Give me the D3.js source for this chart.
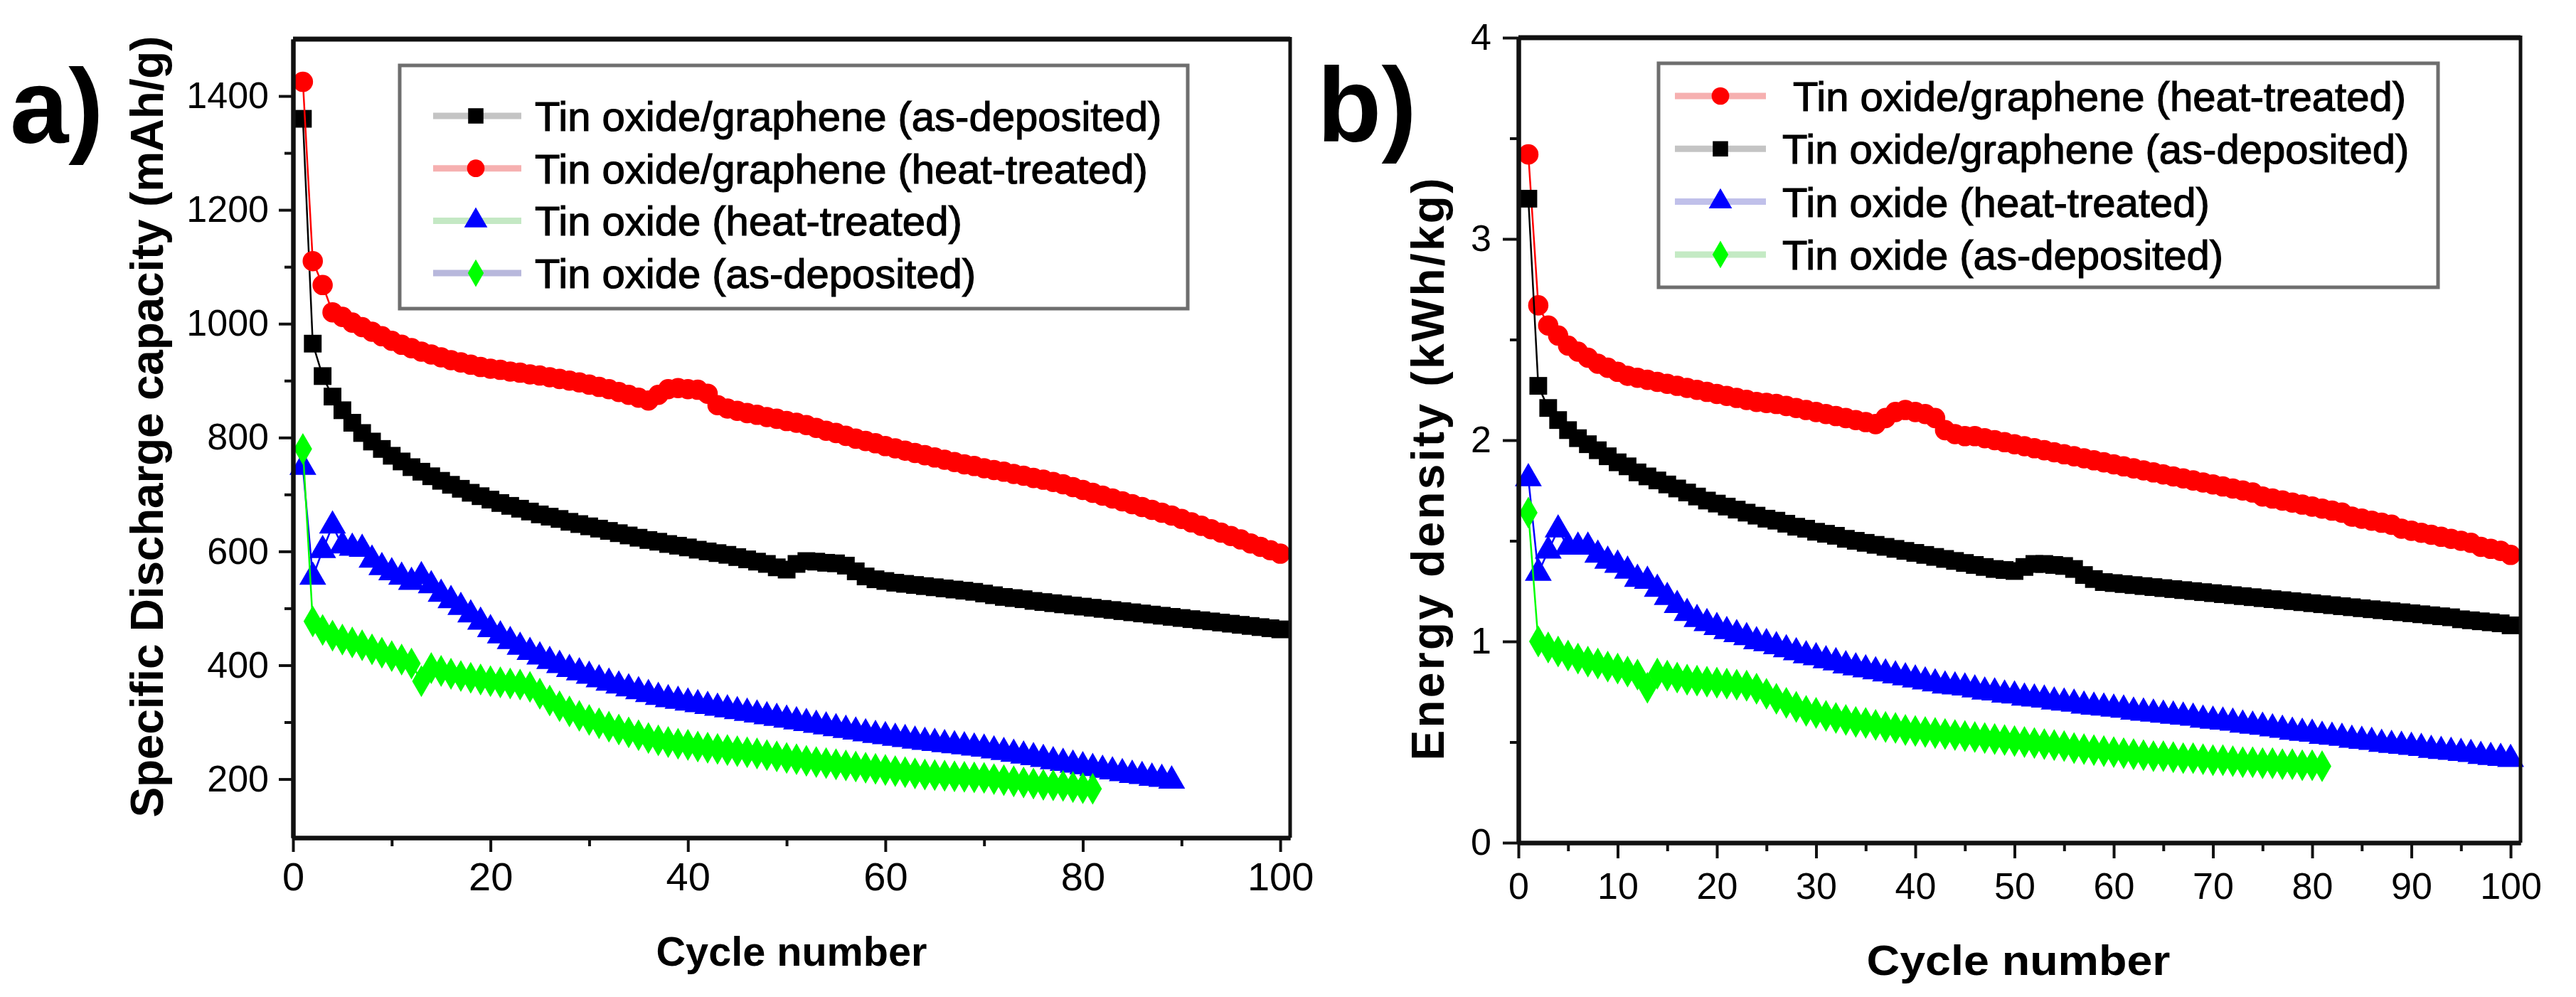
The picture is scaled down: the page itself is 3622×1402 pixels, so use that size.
<!DOCTYPE html>
<html><head><meta charset="utf-8">
<script src="https://cdn.jsdelivr.net/npm/d3@7"></script>
<style>
body{margin:0;background:#fff}
svg{display:block}
text{font-family:"Liberation Sans",Arial,Helvetica,sans-serif}
</style>
</head><body>
<svg id="chart" width="3622" height="1402"></svg>
<script>
// ---------------- DATA ----------------
// Panel a: specific discharge capacity (mAh/g) vs cycle number
const capGrapheneAsDep = [1360,965,908,872,848,826,808,793,780,768,
 758,748,740,732,724,717,710,703,697,691,
 685,680,675,670,665,661,657,652,648,644,
 640,636,632,628,624,620,617,613,610,607,
 603,600,597,594,590,586,582,578,572,568,
 578,583,582,580,579,575,565,556,551,548,
 545,543,541,539,537,535,533,531,529,526,
 523,520,518,516,513,511,509,507,505,503,
 501,499,497,495,493,491,489,487,485,483,
 481,479,477,475,473,471,469,467,465,463];
const capGrapheneHeat = [1425,1110,1068,1020,1012,1002,994,986,978,970,
 963,957,951,946,941,936,932,928,924,921,
 919,916,914,911,909,906,903,900,897,893,
 889,885,880,875,870,865,875,885,887,885,
 884,877,857,851,847,843,840,836,833,829,
 826,822,817,812,808,803,798,794,790,785,
 781,777,773,769,765,761,757,753,750,746,
 743,740,736,733,729,726,722,718,713,708,
 703,698,693,688,683,678,673,668,663,657,
 651,645,639,633,627,621,614,608,602,596];
const capOxideHeat = [748,555,602,645,610,606,604,585,572,563,
 555,546,556,540,525,514,502,489,476,463,
 452,442,432,423,415,407,400,393,387,381,
 375,369,364,359,354,349,344,340,337,334,
 331,328,325,322,319,316,313,310,307,304,
 301,298,295,292,289,286,283,280,277,275,
 272,270,267,265,263,261,259,257,255,253,
 250,247,244,241,238,235,231,228,225,222,
 219,216,213,210,207,205,202,200,197];
const capOxideAsDep = [780,477,462,452,445,440,435,428,422,416,
 410,403,372,395,390,385,381,378,375,372,
 370,368,366,362,350,338,328,319,311,304,
 298,292,287,282,277,272,268,265,262,260,
 257,255,253,251,249,247,245,242,240,237,
 235,232,230,228,226,224,222,220,218,216,
 214,212,210,208,207,206,205,204,203,202,
 200,198,196,194,192,190,189,188,186,184,
 183];

// Panel b: energy density (kWh/kg) vs cycle number
const enGrapheneHeat = [3.42,2.67,2.57,2.52,2.47,2.44,2.41,2.38,2.36,2.34,
 2.32,2.31,2.30,2.29,2.28,2.27,2.26,2.25,2.24,2.23,
 2.22,2.21,2.20,2.19,2.185,2.18,2.17,2.16,2.15,2.14,
 2.13,2.12,2.11,2.10,2.09,2.08,2.11,2.14,2.15,2.14,
 2.13,2.11,2.05,2.03,2.02,2.02,2.01,2.00,1.99,1.98,
 1.97,1.96,1.95,1.94,1.93,1.92,1.91,1.90,1.89,1.88,
 1.87,1.86,1.85,1.84,1.83,1.82,1.81,1.80,1.79,1.78,
 1.77,1.76,1.75,1.74,1.72,1.71,1.70,1.69,1.68,1.67,
 1.66,1.65,1.64,1.62,1.61,1.60,1.59,1.58,1.56,1.55,
 1.54,1.53,1.52,1.51,1.50,1.49,1.47,1.46,1.45,1.43];
const enGrapheneAsDep = [3.20,2.27,2.16,2.10,2.05,2.01,1.98,1.95,1.92,1.89,
 1.87,1.84,1.82,1.80,1.78,1.76,1.74,1.72,1.70,1.685,
 1.67,1.655,1.64,1.625,1.61,1.60,1.585,1.57,1.56,1.545,
 1.535,1.525,1.51,1.50,1.49,1.48,1.47,1.46,1.45,1.44,
 1.43,1.42,1.41,1.40,1.39,1.38,1.37,1.36,1.355,1.35,
 1.37,1.385,1.385,1.38,1.375,1.36,1.33,1.31,1.295,1.29,
 1.285,1.28,1.275,1.27,1.265,1.26,1.255,1.25,1.245,1.24,
 1.235,1.23,1.225,1.22,1.215,1.21,1.205,1.20,1.195,1.19,
 1.185,1.18,1.175,1.17,1.165,1.16,1.155,1.15,1.145,1.14,
 1.135,1.13,1.125,1.12,1.11,1.105,1.10,1.095,1.09,1.08];
const enOxideHeat = [1.81,1.34,1.45,1.555,1.47,1.47,1.47,1.43,1.40,1.38,
 1.35,1.31,1.30,1.26,1.22,1.18,1.14,1.11,1.09,1.07,
 1.05,1.035,1.02,1.00,0.99,0.975,0.96,0.945,0.93,0.92,
 0.905,0.895,0.88,0.87,0.86,0.85,0.84,0.83,0.82,0.81,
 0.80,0.79,0.78,0.775,0.77,0.76,0.75,0.745,0.735,0.73,
 0.72,0.715,0.71,0.70,0.695,0.69,0.68,0.675,0.67,0.665,
 0.66,0.65,0.645,0.64,0.635,0.63,0.625,0.62,0.61,0.605,
 0.60,0.595,0.585,0.58,0.575,0.567,0.56,0.55,0.545,0.54,
 0.53,0.525,0.52,0.51,0.505,0.50,0.49,0.485,0.48,0.475,
 0.47,0.46,0.455,0.45,0.445,0.44,0.43,0.425,0.42,0.415];
const enOxideAsDep = [1.64,1.00,0.97,0.95,0.93,0.915,0.90,0.89,0.875,0.865,
 0.85,0.835,0.77,0.84,0.83,0.82,0.81,0.805,0.80,0.795,
 0.79,0.785,0.78,0.765,0.74,0.715,0.695,0.675,0.655,0.645,
 0.63,0.62,0.61,0.60,0.595,0.585,0.575,0.57,0.56,0.555,
 0.55,0.545,0.54,0.535,0.53,0.525,0.52,0.515,0.51,0.505,
 0.50,0.495,0.49,0.485,0.48,0.47,0.465,0.46,0.455,0.45,
 0.445,0.44,0.435,0.43,0.43,0.425,0.42,0.42,0.415,0.41,
 0.41,0.405,0.40,0.40,0.395,0.395,0.39,0.39,0.385,0.385,0.38];

// Tick values
const xTicksA = [0,20,40,60,80,100];
const xMinorA = [10,30,50,70,90];
const yTicksA = [200,400,600,800,1000,1200,1400];
const yMinorA = [300,500,700,900,1100,1300];
const xTicksB = [0,10,20,30,40,50,60,70,80,90,100];
const xMinorB = [5,15,25,35,45,55,65,75,85,95];
const yTicksB = [0,1,2,3,4];
const yMinorB = [0.5,1.5,2.5,3.5];

// Legend labels (in drawing order)
const labelsA = ["Tin oxide/graphene (as-deposited)","Tin oxide/graphene (heat-treated)","Tin oxide (heat-treated)","Tin oxide (as-deposited)"];
const labelsB = [" Tin oxide/graphene (heat-treated)","Tin oxide/graphene (as-deposited)","Tin oxide (heat-treated)","Tin oxide (as-deposited)"];

// ---------------- DRAW ----------------
const svg = d3.select("#chart");
svg.append("rect").attr("width",3622).attr("height",1402).attr("fill","#fff");

const SYM = {square:d3.symbolSquare, circle:d3.symbolCircle, triangle:d3.symbolTriangle, diamond:d3.symbolDiamond};
const SYMSIZE = {square:620, circle:640, triangle:620, diamond:580};

function panel(cfg){
  const g = svg.append("g");
  const x = d3.scaleLinear().domain(cfg.xDomain).range(cfg.xRange);
  const y = d3.scaleLinear().domain(cfg.yDomain).range(cfg.yRange);
  const [L,R] = cfg.xRange, [B,T] = cfg.yRange;

  // series
  cfg.series.forEach(s=>{
    const pts = s.values.map((v,i)=>[i+1,v]);
    g.append("path").datum(pts)
      .attr("fill","none").attr("stroke",s.color).attr("stroke-width",2.5)
      .attr("d", d3.line().x(d=>x(d[0])).y(d=>y(d[1])));
    g.append("g").selectAll("path").data(pts).join("path")
      .attr("transform",d=>`translate(${x(d[0])},${y(d[1])})`)
      .attr("d", d3.symbol().type(SYM[s.shape]).size(SYMSIZE[s.shape]))
      .attr("fill",s.color);
  });

  // frame
  g.append("line").attr("x1",L).attr("x2",R).attr("y1",T).attr("y2",T).attr("stroke","#111").attr("stroke-width",7);
  g.append("line").attr("x1",R).attr("x2",R).attr("y1",T-3).attr("y2",B).attr("stroke","#111").attr("stroke-width",5);

  // axes
  const styleAxis = (sel, fs)=>{
    sel.select(".domain").attr("stroke","#111").attr("stroke-width",6);
    sel.selectAll(".tick line").attr("stroke","#111").attr("stroke-width",4);
    sel.selectAll(".tick text").attr("fill","#000").attr("font-size",fs)
      .attr("font-family","'Liberation Sans',Arial,sans-serif");
  };
  g.append("g").attr("transform",`translate(0,${B})`)
    .call(d3.axisBottom(x).tickValues(cfg.xMinor).tickSize(12).tickSizeOuter(0).tickFormat(""))
    .call(s=>styleAxis(s,cfg.fs));
  g.append("g").attr("transform",`translate(0,${B})`)
    .call(d3.axisBottom(x).tickValues(cfg.xTicks).tickSize(cfg.tick).tickSizeOuter(0).tickPadding(cfg.xPad).tickFormat(d3.format("d")))
    .call(s=>styleAxis(s,cfg.fsX));
  g.append("g").attr("transform",`translate(${L},0)`)
    .call(d3.axisLeft(y).tickValues(cfg.yMinor).tickSize(12).tickSizeOuter(0).tickFormat(""))
    .call(s=>styleAxis(s,cfg.fs));
  g.append("g").attr("transform",`translate(${L},0)`)
    .call(d3.axisLeft(y).tickValues(cfg.yTicks).tickSize(cfg.tick).tickSizeOuter(0).tickPadding(cfg.yPad).tickFormat(d3.format("d")))
    .call(s=>styleAxis(s,cfg.fs));

  // axis titles
  g.append("text").attr("x",cfg.xTitle[0]).attr("y",cfg.xTitle[1]).attr("text-anchor","middle")
    .attr("font-size",cfg.xTitle[2]).attr("font-weight","bold").attr("textLength",cfg.xTitle[3]).attr("lengthAdjust","spacingAndGlyphs")
    .text("Cycle number");
  g.append("text").attr("transform",`translate(${cfg.yTitle[0]},${cfg.yTitle[1]}) rotate(-90)`).attr("text-anchor","middle")
    .attr("font-size",cfg.yTitle[2]).attr("font-weight","bold").attr("textLength",cfg.yTitle[3]).attr("lengthAdjust","spacing")
    .text(cfg.yLabel);

  // panel letter
  g.append("text").attr("x",cfg.letter[0]).attr("y",cfg.letter[1]).attr("font-size",148).attr("font-weight","bold").text(cfg.letter[2]);

  // legend
  const lg = cfg.legend;
  g.append("rect").attr("x",lg.box[0]).attr("y",lg.box[1]).attr("width",lg.box[2]-lg.box[0]).attr("height",lg.box[3]-lg.box[1])
    .attr("fill","#fff").attr("stroke","#6e6e6e").attr("stroke-width",5);
  lg.items.forEach((it,i)=>{
    const by = lg.base + i*lg.step, cy = by - 21;
    g.append("line").attr("x1",lg.line[0]).attr("x2",lg.line[1]).attr("y1",cy).attr("y2",cy)
      .attr("stroke",it.lineColor).attr("stroke-width",9);
    g.append("path").attr("transform",`translate(${lg.mark},${cy})`)
      .attr("d", d3.symbol().type(SYM[it.shape]).size(SYMSIZE[it.shape]*0.75)).attr("fill",it.color);
    g.append("text").attr("x",lg.text).attr("y",by).attr("font-size",58).attr("fill","#000")
      .attr("stroke","#000").attr("stroke-width",1.2)
      .style("white-space","pre").text(it.label);
  });
}

const C = {black:"#000000", red:"#ff0000", blue:"#0000ff", green:"#00ff00"};

panel({
  xDomain:[0,101], xRange:[412,1814], yDomain:[97,1500], yRange:[1178,55],
  xTicks:xTicksA, xMinor:xMinorA, yTicks:yTicksA, yMinor:yMinorA,
  tick:20, xPad:14, yPad:14, fs:52, fsX:56,
  xTitle:[1113,1358,58,381], yTitle:[229,600,64,1099],
  yLabel:"Specific Discharge capacity (mAh/g)",
  letter:[14,201,"a)"],
  series:[
    {values:capGrapheneAsDep, color:C.black, shape:"square"},
    {values:capGrapheneHeat, color:C.red, shape:"circle"},
    {values:capOxideHeat, color:C.blue, shape:"triangle"},
    {values:capOxideAsDep, color:C.green, shape:"diamond"}
  ],
  legend:{box:[562,92,1670,434], base:184, step:73.7, line:[609,733], mark:669, text:752,
    items:[
      {label:labelsA[0], color:C.black, shape:"square", lineColor:"#c4c4c4"},
      {label:labelsA[1], color:C.red, shape:"circle", lineColor:"#f6b0b0"},
      {label:labelsA[2], color:C.blue, shape:"triangle", lineColor:"#c4e8c4"},
      {label:labelsA[3], color:C.green, shape:"diamond", lineColor:"#b8b8dc"}
    ]}
});

panel({
  xDomain:[0,101], xRange:[2135,3544], yDomain:[0,4], yRange:[1185,53],
  xTicks:xTicksB, xMinor:xMinorB, yTicks:yTicksB, yMinor:yMinorB,
  tick:22, xPad:20, yPad:16, fs:52, fsX:52,
  xTitle:[2838,1371,60,427], yTitle:[2030,660,64,819],
  yLabel:"Energy density (kWh/kg)",
  letter:[1852,199,"b)"],
  series:[
    {values:enGrapheneHeat, color:C.red, shape:"circle"},
    {values:enGrapheneAsDep, color:C.black, shape:"square"},
    {values:enOxideHeat, color:C.blue, shape:"triangle"},
    {values:enOxideAsDep, color:C.green, shape:"diamond"}
  ],
  legend:{box:[2332,89,3428,404], base:156, step:74.3, line:[2355,2483], mark:2419, text:2506,
    items:[
      {label:labelsB[0], color:C.red, shape:"circle", lineColor:"#f6b0b0"},
      {label:labelsB[1], color:C.black, shape:"square", lineColor:"#c4c4c4"},
      {label:labelsB[2], color:C.blue, shape:"triangle", lineColor:"#c0c0ea"},
      {label:labelsB[3], color:C.green, shape:"diamond", lineColor:"#c4eac4"}
    ]}
});
</script>
</body></html>
